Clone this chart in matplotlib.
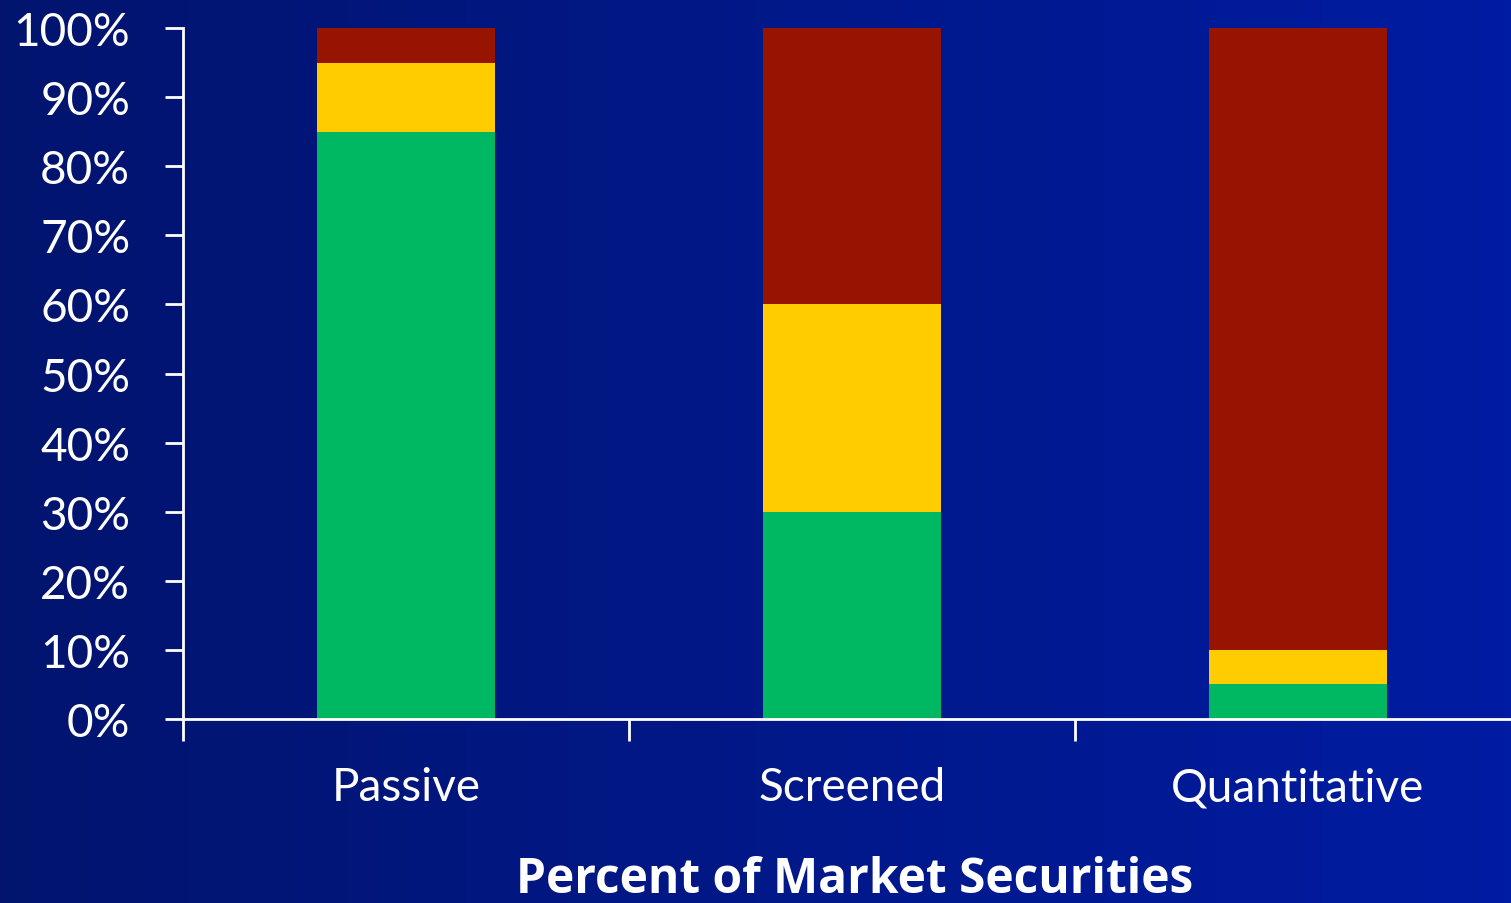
import numpy as np
import matplotlib
matplotlib.use('Agg')
import matplotlib.pyplot as plt
from matplotlib.colors import LinearSegmentedColormap

categories = ['Passive', 'Screened', 'Quantitative']
green_vals = [85, 30, 5]
yellow_vals = [10, 30, 5]
red_vals = [5, 40, 90]
y_ticks = list(range(0, 101, 10))
x_title = 'Percent of Market Securities'

GREEN = '#00B862'
YELLOW = '#FFCC00'
RED = '#961400'

plt.rcParams['font.family'] = ['Lato', 'DejaVu Sans']

fig = plt.figure(figsize=(15.11, 9.04), dpi=100)

# background gradient, dark navy on the left to brighter blue on the right
bg = fig.add_axes([0, 0, 1, 1])
grad = np.linspace(0, 1, 256).reshape(1, -1)
cmap = LinearSegmentedColormap.from_list('bg', ['#02146E', '#001CA2'])
bg.imshow(grad, aspect='auto', cmap=cmap, extent=[0, 1, 0, 1])
bg.axis('off')

ax = fig.add_axes([183 / 1511, 1 - 720 / 904, 1 - 183 / 1511, (720 - 29) / 904])
ax.patch.set_alpha(0)

x = np.arange(len(categories))
w = 0.4
ax.bar(x, green_vals, w, color=GREEN, zorder=2)
ax.bar(x, yellow_vals, w, bottom=green_vals, color=YELLOW, zorder=2)
bottoms = [g + y for g, y in zip(green_vals, yellow_vals)]
ax.bar(x, red_vals, w, bottom=bottoms, color=RED, zorder=2)

ax.set_xlim(-0.5, 2.478)
ax.set_ylim(0, 100)

for side in ['top', 'right']:
    ax.spines[side].set_visible(False)
for side in ['left', 'bottom']:
    ax.spines[side].set_color('white')
    ax.spines[side].set_linewidth(2)
    ax.spines[side].set_zorder(3)

ax.set_yticks(y_ticks)
ax.set_yticklabels([f'{v}%' for v in y_ticks])
ax.tick_params(axis='y', colors='white', length=13, width=2, pad=25,
               labelsize=33)

ax.set_xticks(x)
ax.set_xticklabels(categories)
ax.set_xticks([-0.5, 0.5, 1.5], minor=True)
ax.tick_params(axis='x', which='major', length=0, colors='white', pad=34,
               labelsize=33)
ax.tick_params(axis='x', which='minor', length=16, width=2, color='white')

fig.text(855 / 1511, 1 - 881 / 904, x_title, color='white', fontsize=34.5,
         fontweight='bold', ha='center', va='center',
         family=['Open Sans', 'DejaVu Sans'])

fig.savefig('out.png', dpi=100)
